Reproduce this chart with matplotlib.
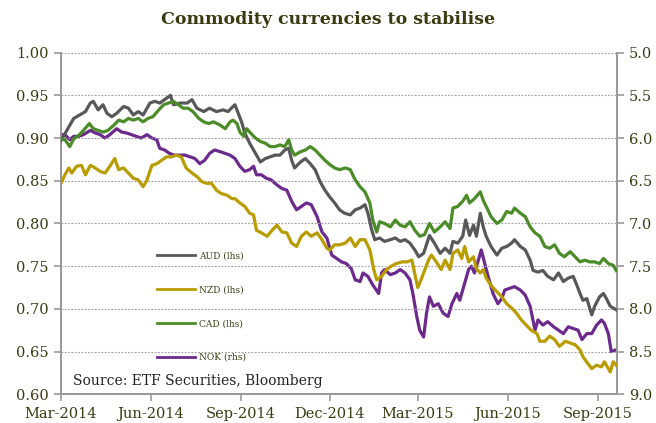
import matplotlib
matplotlib.use("Agg")
import matplotlib.pyplot as plt
import matplotlib.dates as mdates
import numpy as np
import datetime as dt

# ---- data (day offsets from 2014-03-01) ----
start_date = dt.date(2014, 3, 1)

aud_days = [0, 6, 13, 19, 25, 30, 33, 38, 43, 47, 52, 57, 64, 69, 74, 79, 84, 91, 96, 101,
            106, 112, 115, 122, 129, 134, 139, 146, 152, 159, 166, 171, 176, 178, 181, 185,
            188, 193, 199, 204, 209, 214, 219, 224, 229, 233, 236, 239, 245, 250, 255, 260,
            265, 270, 275, 280, 285, 290, 296, 301, 306, 311, 314, 318, 321, 326, 331, 337,
            342, 347, 352, 357, 362, 366, 371, 377, 382, 388, 393, 398, 401, 406, 411, 414,
            418, 422, 425, 429, 432, 435, 440, 446, 451, 456, 461, 464, 470, 475, 480, 483,
            488, 493, 498, 504, 509, 514, 519, 524, 527, 531, 534, 538, 543, 546, 551, 555,
            558, 562, 568]
aud_vals = [0.897, 0.909, 0.923, 0.927, 0.931, 0.941, 0.943, 0.933, 0.939, 0.929, 0.925,
            0.929, 0.937, 0.935, 0.927, 0.931, 0.927, 0.941, 0.943, 0.941, 0.945, 0.950,
            0.939, 0.941, 0.941, 0.945, 0.935, 0.931, 0.935, 0.931, 0.933, 0.931, 0.937,
            0.939, 0.930, 0.918, 0.906, 0.894, 0.882, 0.872, 0.876, 0.878, 0.880, 0.880,
            0.886, 0.888, 0.874, 0.865, 0.872, 0.876, 0.870, 0.863, 0.849, 0.839, 0.831,
            0.824, 0.816, 0.812, 0.810, 0.816, 0.818, 0.822, 0.812, 0.792, 0.781, 0.783,
            0.779, 0.781, 0.783, 0.779, 0.781, 0.777, 0.769, 0.761, 0.765, 0.786, 0.777,
            0.765, 0.771, 0.765, 0.779, 0.777, 0.785, 0.804, 0.786, 0.798, 0.785, 0.812,
            0.796, 0.785, 0.773, 0.763, 0.771, 0.773, 0.777, 0.781, 0.773, 0.769, 0.757,
            0.745, 0.743, 0.745, 0.738, 0.734, 0.742, 0.732, 0.736, 0.738, 0.730, 0.718,
            0.710, 0.712, 0.693, 0.703, 0.714, 0.718, 0.712, 0.703, 0.699]

nzd_days = [0, 4, 8, 11, 16, 21, 25, 30, 35, 40, 45, 50, 55, 59, 64, 69, 74, 79, 84, 88,
            93, 98, 103, 108, 113, 118, 123, 128, 134, 139, 144, 149, 154, 159, 164, 170,
            175, 178, 183, 188, 193, 197, 200, 205, 211, 216, 221, 226, 231, 236, 241, 246,
            251, 256, 262, 267, 272, 275, 280, 285, 291, 296, 301, 306, 311, 316, 320, 323,
            328, 333, 338, 343, 349, 354, 359, 365, 367, 371, 376, 379, 384, 389, 393, 398,
            401, 406, 410, 413, 417, 422, 425, 429, 432, 435, 441, 446, 451, 456, 461, 466,
            471, 476, 481, 487, 490, 495, 500, 505, 510, 516, 521, 526, 531, 534, 539, 543,
            548, 553, 556, 562, 565, 568]
nzd_vals = [0.847, 0.857, 0.865, 0.859, 0.867, 0.868, 0.857, 0.868, 0.865, 0.861, 0.859,
            0.867, 0.876, 0.863, 0.865, 0.859, 0.853, 0.851, 0.843, 0.851, 0.868, 0.870,
            0.874, 0.878, 0.878, 0.880, 0.878, 0.865, 0.859, 0.855, 0.849, 0.847, 0.847,
            0.839, 0.835, 0.833, 0.829, 0.829, 0.824, 0.820, 0.812, 0.810, 0.792, 0.789,
            0.785, 0.792, 0.798, 0.790, 0.789, 0.777, 0.773, 0.785, 0.790, 0.785, 0.789,
            0.781, 0.771, 0.769, 0.775, 0.775, 0.777, 0.783, 0.773, 0.781, 0.781, 0.769,
            0.746, 0.734, 0.738, 0.746, 0.750, 0.753, 0.755, 0.755, 0.757, 0.725, 0.730,
            0.742, 0.757, 0.763, 0.755, 0.746, 0.757, 0.746, 0.765, 0.769, 0.759, 0.773,
            0.755, 0.761, 0.747, 0.742, 0.746, 0.736, 0.726, 0.720, 0.714, 0.706, 0.701,
            0.695, 0.687, 0.681, 0.675, 0.671, 0.662, 0.662, 0.668, 0.664, 0.656, 0.662,
            0.660, 0.658, 0.652, 0.644, 0.636, 0.630, 0.634, 0.632, 0.638, 0.626, 0.638,
            0.634]

cad_days = [0, 4, 9, 13, 18, 23, 29, 33, 38, 43, 48, 54, 59, 64, 69, 74, 79, 84, 89, 94,
            100, 105, 110, 115, 120, 125, 130, 135, 141, 146, 151, 156, 163, 168, 173, 176,
            180, 183, 187, 190, 193, 199, 204, 209, 214, 219, 224, 229, 233, 236, 239, 245,
            250, 255, 260, 265, 270, 275, 280, 285, 291, 296, 301, 306, 311, 316, 319, 323,
            326, 331, 337, 342, 347, 352, 357, 362, 367, 372, 377, 382, 388, 393, 398, 401,
            406, 411, 415, 418, 423, 429, 432, 435, 440, 446, 451, 456, 461, 464, 470, 475,
            480, 485, 490, 495, 500, 505, 510, 515, 521, 526, 531, 536, 541, 546, 551, 555,
            560, 565, 568]
cad_vals = [0.899, 0.898, 0.890, 0.899, 0.903, 0.909, 0.917, 0.911, 0.909, 0.907, 0.909,
            0.915, 0.921, 0.919, 0.923, 0.921, 0.923, 0.919, 0.923, 0.925, 0.933, 0.939,
            0.941, 0.943, 0.939, 0.935, 0.935, 0.931, 0.923, 0.919, 0.917, 0.919, 0.915,
            0.911, 0.919, 0.921, 0.917, 0.907, 0.902, 0.911, 0.907, 0.900, 0.896, 0.894,
            0.890, 0.890, 0.892, 0.890, 0.898, 0.886, 0.880, 0.884, 0.886, 0.890, 0.886,
            0.880, 0.874, 0.869, 0.865, 0.863, 0.865, 0.863, 0.851, 0.843, 0.837, 0.824,
            0.804, 0.790, 0.802, 0.800, 0.796, 0.804, 0.798, 0.796, 0.802, 0.792, 0.785,
            0.787, 0.800, 0.790, 0.796, 0.802, 0.794, 0.818, 0.820, 0.826, 0.833, 0.824,
            0.829, 0.837, 0.827, 0.820, 0.808, 0.800, 0.804, 0.814, 0.812, 0.818, 0.812,
            0.808, 0.796, 0.789, 0.785, 0.773, 0.771, 0.775, 0.765, 0.761, 0.767, 0.761,
            0.755, 0.757, 0.755, 0.755, 0.753, 0.759, 0.753, 0.751, 0.745]

nok_days = [0, 4, 9, 13, 18, 23, 30, 35, 40, 45, 50, 57, 62, 67, 72, 77, 82, 88, 93, 98,
            101, 106, 111, 116, 122, 127, 132, 137, 142, 147, 152, 157, 163, 168, 173, 178,
            183, 188, 193, 197, 200, 205, 210, 215, 221, 226, 231, 236, 241, 246, 251, 256,
            262, 267, 272, 277, 282, 287, 292, 297, 301, 306, 309, 314, 319, 325, 328, 331,
            337, 342, 347, 352, 357, 360, 364, 367, 371, 374, 377, 381, 386, 391, 396, 400,
            405, 408, 412, 417, 420, 423, 427, 430, 434, 437, 442, 447, 451, 454, 459, 464,
            470, 475, 480, 485, 488, 493, 498, 504, 509, 514, 519, 524, 529, 533, 538, 543,
            548, 553, 556, 560, 563, 568]
nok_vals = [5.96, 5.96, 6.02, 5.98, 5.98, 5.96, 5.91, 5.94, 5.96, 6.00, 5.96, 5.89, 5.93,
            5.94, 5.96, 5.98, 6.00, 5.96, 6.00, 6.02, 6.12, 6.14, 6.18, 6.20, 6.20, 6.20,
            6.22, 6.24, 6.30, 6.26, 6.18, 6.14, 6.16, 6.18, 6.20, 6.24, 6.33, 6.39, 6.37,
            6.33, 6.43, 6.43, 6.47, 6.49, 6.55, 6.59, 6.61, 6.74, 6.84, 6.80, 6.76, 6.78,
            6.92, 7.10, 7.17, 7.37, 7.41, 7.45, 7.47, 7.53, 7.66, 7.68, 7.58, 7.62, 7.72,
            7.82, 7.58, 7.54, 7.60, 7.58, 7.54, 7.58, 7.66, 7.82, 8.09, 8.25, 8.33, 8.05,
            7.86, 7.97, 7.94, 8.05, 8.09, 7.94, 7.82, 7.90, 7.74, 7.54, 7.50, 7.58, 7.43,
            7.31, 7.49, 7.62, 7.82, 7.94, 7.88, 7.78, 7.76, 7.74, 7.78, 7.84, 7.97, 8.25,
            8.13, 8.19, 8.15, 8.21, 8.25, 8.29, 8.21, 8.23, 8.25, 8.36, 8.29, 8.29, 8.19,
            8.13, 8.17, 8.29, 8.50, 8.48]

series_labels = ["AUD (lhs)", "NZD (lhs)", "CAD (lhs)", "NOK (rhs)"]
left_ticks = [0.60, 0.65, 0.70, 0.75, 0.80, 0.85, 0.90, 0.95, 1.00]
right_ticks = [5.0, 5.5, 6.0, 6.5, 7.0, 7.5, 8.0, 8.5, 9.0]
title_text = "Commodity currencies to stabilise"
source_text = "Source: ETF Securities, Bloomberg"

# ---- style ----
TXT = "#3b3b12"
AX = "#9a9a9a"
colors = ["#58585b", "#b89c00", "#4b8c28", "#6b2a8c"]
FONT = "DejaVu Serif"
plt.rcParams["font.family"] = FONT


def to_dates(days):
    return [start_date + dt.timedelta(days=int(d)) for d in days]


fig = plt.figure(figsize=(6.56, 4.23), dpi=100)
ax = fig.add_axes([0.093, 0.068, 0.847, 0.8075])
ax2 = ax.twinx()

lw = 2.3
h1, = ax.plot(to_dates(aud_days), aud_vals, color=colors[0], lw=lw, zorder=3)
h2, = ax.plot(to_dates(nzd_days), nzd_vals, color=colors[1], lw=lw, zorder=3)
h3, = ax.plot(to_dates(cad_days), cad_vals, color=colors[2], lw=lw, zorder=3)
h4, = ax2.plot(to_dates(nok_days), nok_vals, color=colors[3], lw=lw, zorder=3)

x0 = mdates.date2num(start_date)
ax.set_xlim(x0, x0 + 568.5)
ax.set_ylim(0.60, 1.00)
ax2.set_ylim(9.0, 5.0)

ax.set_yticks(left_ticks)
ax.set_yticklabels([f"{v:.2f}" for v in left_ticks])
ax2.set_yticks(right_ticks)
ax2.set_yticklabels([f"{v:.1f}" for v in right_ticks])

tick_dates = [dt.date(2014, 3, 1), dt.date(2014, 6, 1), dt.date(2014, 9, 1),
              dt.date(2014, 12, 1), dt.date(2015, 3, 1), dt.date(2015, 6, 1),
              dt.date(2015, 9, 1)]
ax.set_xticks([mdates.date2num(d) for d in tick_dates])
ax.xaxis.set_major_formatter(mdates.DateFormatter("%b-%Y"))

for a in (ax, ax2):
    a.spines["top"].set_visible(False)
    for s in ("left", "right", "bottom"):
        a.spines[s].set_color(AX)
        a.spines[s].set_linewidth(1.3)
    a.tick_params(colors=AX, labelcolor=TXT, labelsize=10.5, length=5, width=1.2)

ax.tick_params(axis="x", pad=4)
ax.tick_params(axis="y", pad=4)
ax2.tick_params(axis="y", pad=4)

for v in left_ticks[1:]:
    ax.axhline(v, color="#9a9a9a", lw=0.8, ls=(0, (1.5, 1.5)), zorder=1)

ax.set_zorder(ax2.get_zorder() + 1)
ax.patch.set_visible(False)

leg = ax.legend([h1, h2, h3, h4], series_labels, loc="upper left",
                bbox_to_anchor=(0.173, 0.418), frameon=False, fontsize=6.5,
                handlelength=4.2, handletextpad=0.45, labelspacing=2.75,
                borderpad=0, borderaxespad=0)
for t in leg.get_texts():
    t.set_color(TXT)
for l in leg.get_lines():
    l.set_linewidth(2.0)

ax.text(0.022, 0.039, source_text, transform=ax.transAxes, fontsize=10,
        color="#222222", ha="left", va="center")

fig.text(0.5, 0.955, title_text, ha="center", va="center", fontsize=12.5,
         fontweight="bold", color=TXT)

fig.savefig("out.png", dpi=100)
